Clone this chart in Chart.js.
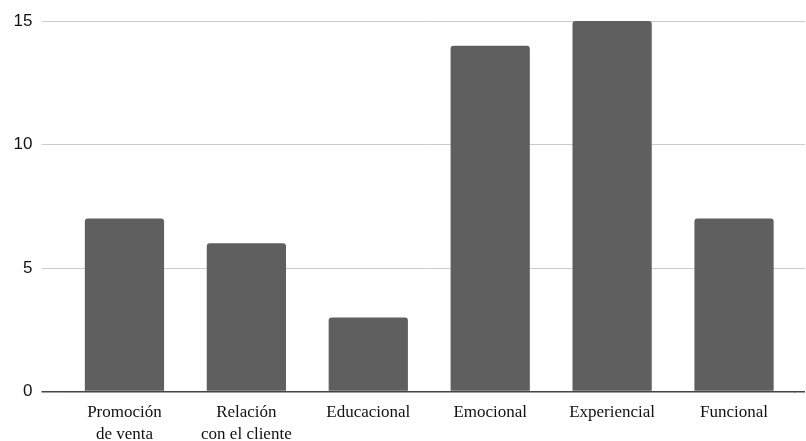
<!DOCTYPE html>
<html>
<head>
<meta charset="utf-8">
<script src="https://cdn.jsdelivr.net/npm/chart.js@4/dist/chart.umd.min.js"></script>
<style>
  html, body { margin: 0; padding: 0; background: #fff; }
  #wrap { width: 806px; height: 441px; }
</style>
</head>
<body>
<div id="wrap"><canvas id="c" width="806" height="441"></canvas></div>
<script>
const categories = [
  ["Promoción", "de venta"],
  ["Relación", "con el cliente"],
  "Educacional",
  "Emocional",
  "Experiencial",
  "Funcional"
];
const values = [7, 6, 3, 14, 15, 7];
const yTicks = [0, 5, 10, 15];

const extendGrid = {
  id: 'extendGrid',
  beforeDatasetsDraw(chart) {
    const y = chart.scales.y;
    const ctx = chart.ctx;
    const area = chart.chartArea;
    ctx.save();
    y.ticks.forEach(t => {
      const w = t.value === 0 ? 1.5 : 1;
      const p = y.getPixelForValue(t.value);
      const py = Math.round(p - w / 2) + w / 2;
      ctx.beginPath();
      ctx.strokeStyle = t.value === 0 ? '#444' : '#cccccc';
      ctx.lineWidth = w;
      ctx.moveTo(area.right - 1, py);
      ctx.lineTo(chart.width - 1, py);
      ctx.stroke();
    });
    ctx.restore();
  }
};

new Chart(document.getElementById('c'), {
  type: 'bar',
  data: {
    labels: categories,
    datasets: [{
      data: values,
      backgroundColor: '#5f5f5f',
      borderRadius: { topLeft: 3, topRight: 3, bottomLeft: 0, bottomRight: 0 },
      borderSkipped: false,
      categoryPercentage: 1,
      barPercentage: 0.65
    }]
  },
  options: {
    responsive: false,
    animation: false,
    devicePixelRatio: 1,
    layout: { padding: { top: 21, right: 11, left: 0, bottom: 0 } },
    plugins: { legend: { display: false }, tooltip: { enabled: false } },
    scales: {
      x: {
        grid: { display: false, drawTicks: false },
        border: { display: false },
        ticks: {
          color: '#111',
          font: { family: "'Liberation Serif', 'Times New Roman', serif", size: 17, lineHeight: 1.3 },
          padding: 10,
          maxRotation: 0,
          autoSkip: false
        },
        afterFit(scale) { scale.height = 49.5; }
      },
      y: {
        min: 0,
        max: 15,
        afterBuildTicks(scale) { scale.ticks = yTicks.map(v => ({ value: v })); },
        grid: {
          color: ctx => (ctx.tick && ctx.tick.value === 0) ? '#444' : '#cccccc',
          lineWidth: ctx => (ctx.tick && ctx.tick.value === 0) ? 1.5 : 1,
          tickLength: 22,
          drawTicks: true
        },
        border: { display: false },
        ticks: {
          color: '#111',
          font: { family: "'Liberation Sans', Arial, sans-serif", size: 17 },
          padding: 9
        },
        afterFit(scale) { scale.width = 63.5; }
      }
    }
  },
  plugins: [extendGrid]
});
</script>
</body>
</html>
